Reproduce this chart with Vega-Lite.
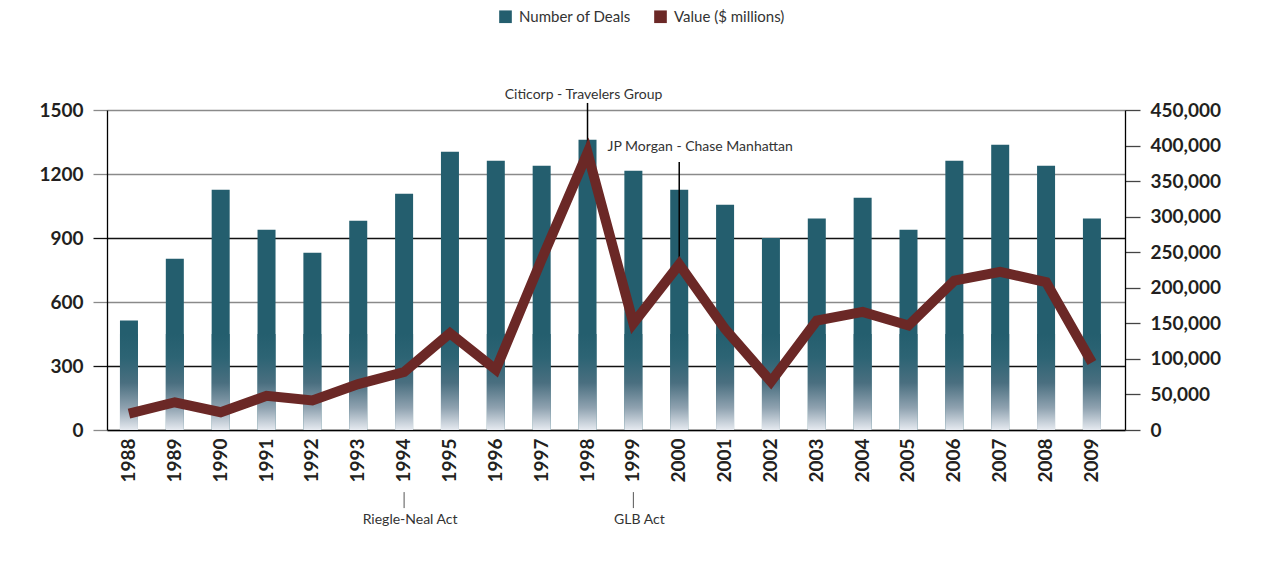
{
  "$schema": "https://vega.github.io/schema/vega-lite/v6.json",
  "width": 1018,
  "height": 320,
  "autosize": {"type": "none"},
  "padding": {"left": 107, "top": 110, "right": 141, "bottom": 139},
  "background": "white",
  "config": {
    "view": {"stroke": null},
    "font": "Lato",
    "axis": {"labelFont": "Lato", "labelColor": "#231f20", "labelFontWeight": "bold", "labelFontSize": 19, "title": null}
  },
  "data": {"values": [
    {"year": "1988", "deals": 513, "value": 23000},
    {"year": "1989", "deals": 803, "value": 39000},
    {"year": "1990", "deals": 1126, "value": 25000},
    {"year": "1991", "deals": 939, "value": 48000},
    {"year": "1992", "deals": 831, "value": 41500},
    {"year": "1993", "deals": 981, "value": 64500},
    {"year": "1994", "deals": 1108, "value": 81500},
    {"year": "1995", "deals": 1304, "value": 136000},
    {"year": "1996", "deals": 1262, "value": 85000},
    {"year": "1997", "deals": 1239, "value": 240000},
    {"year": "1998", "deals": 1361, "value": 390000},
    {"year": "1999", "deals": 1215, "value": 150000},
    {"year": "2000", "deals": 1126, "value": 233000},
    {"year": "2001", "deals": 1056, "value": 142000},
    {"year": "2002", "deals": 900, "value": 68000},
    {"year": "2003", "deals": 991, "value": 154000},
    {"year": "2004", "deals": 1089, "value": 166000},
    {"year": "2005", "deals": 939, "value": 147000},
    {"year": "2006", "deals": 1262, "value": 210000},
    {"year": "2007", "deals": 1337, "value": 222500},
    {"year": "2008", "deals": 1239, "value": 208000},
    {"year": "2009", "deals": 991, "value": 95000}
  ]},
  "encoding": {
    "x": {
      "field": "year", "type": "ordinal",
      "scale": {"domain": ["1988","1989","1990","1991","1992","1993","1994","1995","1996","1997","1998","1999","2000","2001","2002","2003","2004","2005","2006","2007","2008","2009"], "paddingInner": 0.6075, "paddingOuter": 0.404, "align": 0.35},
      "axis": {"labelAngle": 270, "ticks": false, "labelPadding": 8, "domainColor": "#000", "domainWidth": 1.5, "grid": false, "title": null}
    }
  },
  "layer": [
    {
      "layer": [
        {
          "mark": {"type": "bar"},
          "encoding": {
            "y": {
              "field": "deals", "type": "quantitative",
              "scale": {"domain": [0, 1500], "nice": false},
              "axis": {
                "orient": "left", "values": [0, 300, 600, 900, 1200, 1500], "format": "d", "grid": true,
                "gridColor": {"condition": {"test": "datum.value == 300 || datum.value == 900", "value": "#111111"}, "value": "#8a8a8a"},
                "gridWidth": 1.3,
                "tickSize": 14,
                "tickColor": {"condition": {"test": "datum.value == 300 || datum.value == 900", "value": "#111111"}, "value": "#8a8a8a"},
                "tickWidth": 1.3,
                "labelPadding": 10,
                "domainColor": "#000", "domainWidth": 1.3, "title": null
              }
            },
            "color": {
              "datum": "Number of Deals", "type": "nominal",
              "scale": {"domain": ["Number of Deals", "Value ($ millions)"], "range": ["#245e6e", "#6b2826"]},
              "legend": {
                "orient": "none", "legendX": 391, "legendY": -101, "direction": "horizontal", "title": null,
                "symbolType": "square", "symbolSize": 160, "labelFontSize": 15, "labelFont": "Lato", "labelColor": "#333333",
                "columnPadding": 22, "labelOffset": 6,
                "encode": {"symbols": {"update": {"fill": {"scale": "color", "field": "value"}, "stroke": {"value": "transparent"}, "strokeWidth": {"value": 0}, "opacity": {"value": 1}}}}
              }
            }
          }
        },
        {
          "mark": {"type": "bar", "color": {"gradient": "linear", "x1": 0, "y1": 0, "x2": 0, "y2": 1, "stops": [
            {"offset": 0, "color": "#245e6e"},
            {"offset": 0.25, "color": "#2d6474"},
            {"offset": 0.51, "color": "#4a6f80"},
            {"offset": 0.77, "color": "#8fa2b0"},
            {"offset": 1, "color": "#e6eaf0"}
          ]}},
          "encoding": {
            "y": {"datum": 450, "type": "quantitative", "scale": {"domain": [0, 1500], "nice": false}},
            "y2": {"datum": 0}
          }
        },
        {
          "data": {"values": [{"year": "1998", "label": "Citicorp - Travelers Group"}]},
          "mark": {"type": "rule", "color": "#000", "strokeWidth": 1.5},
          "encoding": {
            "y": {"datum": 1533, "type": "quantitative", "scale": {"domain": [0, 1500], "nice": false}},
            "y2": {"datum": 1300}
          }
        },
        {
          "data": {"values": [{"year": "1998", "label": "Citicorp - Travelers Group"}]},
          "mark": {"type": "text", "font": "Lato", "fontSize": 14, "color": "#333333", "align": "center", "baseline": "middle", "dx": -4},
          "encoding": {
            "y": {"datum": 1570, "type": "quantitative", "scale": {"domain": [0, 1500], "nice": false}},
            "text": {"field": "label"}
          }
        },
        {
          "data": {"values": [{"year": "2000", "label": "JP Morgan - Chase Manhattan"}]},
          "mark": {"type": "rule", "color": "#000", "strokeWidth": 1.5},
          "encoding": {
            "y": {"datum": 1256, "type": "quantitative", "scale": {"domain": [0, 1500], "nice": false}},
            "y2": {"datum": 790}
          }
        },
        {
          "data": {"values": [{"year": "2000", "label": "JP Morgan - Chase Manhattan"}]},
          "mark": {"type": "text", "font": "Lato", "fontSize": 14, "color": "#333333", "align": "center", "baseline": "middle", "dx": 21},
          "encoding": {
            "y": {"datum": 1327, "type": "quantitative", "scale": {"domain": [0, 1500], "nice": false}},
            "text": {"field": "label"}
          }
        },
        {
          "data": {"values": [{"year": "1994", "label": "Riegle-Neal Act"}, {"year": "1999", "label": "GLB Act"}]},
          "mark": {"type": "rule", "color": "#555555", "strokeWidth": 1},
          "encoding": {
            "y": {"datum": -291, "type": "quantitative", "scale": {"domain": [0, 1500], "nice": false}},
            "y2": {"datum": -366}
          }
        },
        {
          "data": {"values": [{"year": "1994", "label": "Riegle-Neal Act"}, {"year": "1999", "label": "GLB Act"}]},
          "mark": {"type": "text", "font": "Lato", "fontSize": 14, "color": "#333333", "align": "center", "baseline": "middle", "dx": 6},
          "encoding": {
            "y": {"datum": -422, "type": "quantitative", "scale": {"domain": [0, 1500], "nice": false}},
            "text": {"field": "label"}
          }
        }
      ]
    },
    {
      "mark": {"type": "line", "strokeWidth": 10, "strokeJoin": "miter"},
      "encoding": {
        "y": {
          "field": "value", "type": "quantitative",
          "scale": {"domain": [0, 450000], "nice": false},
          "axis": {
            "orient": "right", "values": [0, 50000, 100000, 150000, 200000, 250000, 300000, 350000, 400000, 450000],
            "format": ",d", "grid": false, "tickSize": 15, "tickColor": "#444444", "tickWidth": 1.3,
            "labelPadding": 10, "domainColor": "#000", "domainWidth": 1.3, "title": null
          }
        },
        "color": {"datum": "Value ($ millions)", "type": "nominal"}
      }
    }
  ],
  "resolve": {"scale": {"y": "independent"}}
}
